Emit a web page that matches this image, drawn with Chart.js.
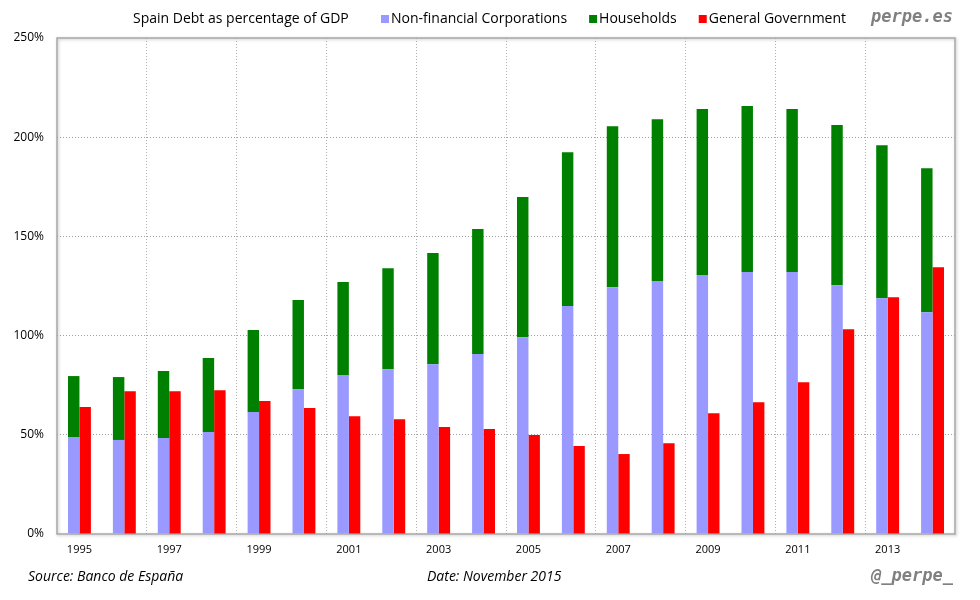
<!DOCTYPE html>
<html>
<head>
<meta charset="utf-8">
<script src="https://cdn.jsdelivr.net/npm/chart.js@4.4.1/dist/chart.umd.min.js"></script>
<style>
  html, body { margin: 0; padding: 0; background: #fff; }
  #wrap { width: 980px; height: 600px; position: relative; }
</style>
</head>
<body>
<div id="wrap"><canvas id="debtChart"></canvas></div>
<script>
// ---- data ----
const years = ['1995', '1996', '1997', '1998', '1999', '2000', '2001', '2002', '2003', '2004',
               '2005', '2006', '2007', '2008', '2009', '2010', '2011', '2012', '2013', '2014'];
const corporations = [48.9, 47.4, 48.4, 51.4, 61.5, 73.0, 80.1, 83.1, 85.6, 90.7,
                      99.2, 114.9, 124.4, 127.5, 130.5, 132.0, 132.0, 125.4, 118.8, 111.8];
const households = [30.7, 31.7, 33.7, 37.3, 41.3, 44.9, 46.9, 50.9, 56.0, 63.0,
                    70.6, 77.5, 81.1, 81.6, 83.7, 83.7, 82.2, 80.7, 77.2, 72.6];
const government = [64.0, 72.0, 72.0, 72.5, 67.0, 63.5, 59.4, 57.9, 53.9, 52.9,
                    49.9, 44.3, 40.3, 45.8, 60.9, 66.4, 76.5, 103.2, 119.3, 134.4];
const yTicks = [0, 50, 100, 150, 200, 250];

const chartTitle = 'Spain Debt as percentage of GDP';
const FONT = "'Open Sans', sans-serif";

// frame around the plot area + header/footer texts
const decorations = {
    id: 'decorations',
    beforeDatasetsDraw(chart) {
        const { ctx, chartArea: a } = chart;
        ctx.save();
        ctx.shadowColor = 'rgba(0,0,0,0.25)';
        ctx.shadowBlur = 3;
        ctx.shadowOffsetX = 1;
        ctx.shadowOffsetY = 1;
        ctx.strokeStyle = '#a8a8a8';
        ctx.lineWidth = 1.5;
        ctx.strokeRect(a.left, a.top, a.right - a.left, a.bottom - a.top);
        ctx.restore();
    },
    afterDraw(chart) {
        const ctx = chart.ctx;
        ctx.save();
        ctx.textBaseline = 'middle';
        ctx.fillStyle = '#000';
        ctx.font = '14px ' + FONT;
        ctx.textAlign = 'left';
        ctx.fillText(chartTitle, 133, 19);

        // legend
        let x = 381;
        chart.data.datasets.forEach(ds => {
            ctx.fillStyle = ds.backgroundColor;
            ctx.fillRect(x, 15, 8, 8);
            ctx.fillStyle = '#000';
            ctx.fillText(ds.label, x + 10, 19);
            x += 10 + ctx.measureText(ds.label).width + 22;
        });

        ctx.fillStyle = '#808080';
        ctx.font = "italic bold 17px 'DejaVu Sans Mono', monospace";
        ctx.textAlign = 'right';
        ctx.fillText('perpe.es', 953, 18);
        ctx.fillText('@_perpe_', 953, 577);

        ctx.fillStyle = '#000';
        ctx.font = 'italic 14px ' + FONT;
        ctx.textAlign = 'left';
        ctx.fillText('Source: Banco de España', 28, 577);
        ctx.fillText('Date: November 2015', 427, 577);
        ctx.restore();
    }
};

new Chart(document.getElementById('debtChart'), {
    type: 'bar',
    data: {
        labels: years,
        datasets: [
            { label: 'Non-financial Corporations', data: corporations, backgroundColor: '#9999ff', stack: 'private' },
            { label: 'Households', data: households, backgroundColor: '#008000', stack: 'private' },
            { label: 'General Government', data: government, backgroundColor: '#ff0000', stack: 'public' }
        ]
    },
    options: {
        responsive: true,
        maintainAspectRatio: false,
        animation: false,
        layout: { padding: { top: 38, right: 25, bottom: 36, left: 0 } },
        datasets: {
            bar: { categoryPercentage: 0.51, barPercentage: 1.0 }
        },
        scales: {
            x: {
                stacked: true,
                offset: true,
                afterFit: s => { s.height = 30; },
                border: { display: false, dash: [1, 2] },
                grid: {
                    offset: true,
                    drawTicks: false,
                    color: c => (c.index > 0 && c.index % 2 === 0) ? '#b0b0b0' : 'rgba(0,0,0,0)'
                },
                ticks: {
                    autoSkip: false,
                    maxRotation: 0,
                    padding: 9,
                    color: '#000',
                    font: { family: FONT, size: 11 },
                    callback: (v, i) => (i % 2 === 0 ? years[i] : '')
                }
            },
            y: {
                stacked: true,
                min: yTicks[0],
                max: yTicks[yTicks.length - 1],
                afterFit: s => { s.width = 57; },
                afterBuildTicks: s => { s.ticks = yTicks.map(v => ({ value: v })); },
                border: { display: false, dash: [1, 2] },
                grid: {
                    drawTicks: false,
                    color: c => (c.index > 0 && c.index < yTicks.length - 1) ? '#a0a0a0' : 'rgba(0,0,0,0)'
                },
                ticks: {
                    padding: 13,
                    color: '#000',
                    font: { family: FONT, size: 12 },
                    callback: v => v + '%'
                }
            }
        },
        plugins: {
            legend: { display: false },
            title: { display: false },
            tooltip: { enabled: false }
        }
    },
    plugins: [decorations]
});
</script>
</body>
</html>
